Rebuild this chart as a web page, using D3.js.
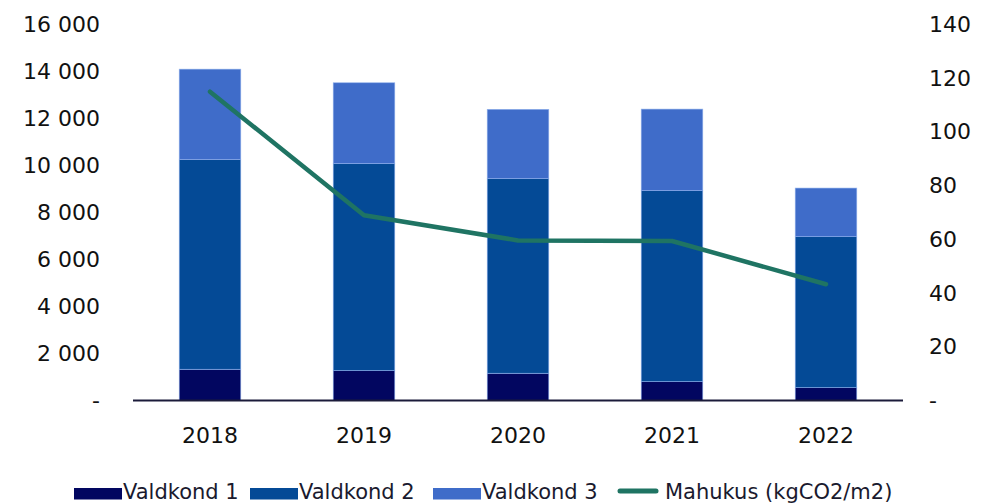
<!DOCTYPE html>
<html>
<head>
<meta charset="utf-8">
<script src="https://cdn.jsdelivr.net/npm/d3@7"></script>
<style>
  body { margin: 0; background: #fff; }
  svg { font-family: "DejaVu Sans", sans-serif; }
</style>
</head>
<body>
<div id="chart"></div>
<script>
// data
const years = ["2018", "2019", "2020", "2021", "2022"];
const valdkond1 = [1330, 1270, 1160, 800, 545];
const valdkond2 = [8920, 8810, 8280, 8130, 6425];
const valdkond3 = [3850, 3440, 2950, 3470, 2070];
const mahukus = [115, 69, 59.6, 59.4, 43.3];
const leftTicks = [0, 2000, 4000, 6000, 8000, 10000, 12000, 14000, 16000];
const rightTicks = [0, 20, 40, 60, 80, 100, 120, 140];

const seriesNames = ["Valdkond 1", "Valdkond 2", "Valdkond 3"];
const colors = ["#020660", "#044a96", "#3f6cc9"];
const lineColor = "#1f7463";

const width = 986, height = 504;
const svg = d3.select("#chart").append("svg")
    .attr("width", width)
    .attr("height", height);

const x = d3.scaleBand()
    .domain(years)
    .range([133, 903])
    .paddingInner(0.6)
    .paddingOuter(0.3);

const y = d3.scaleLinear().domain([0, 16000]).range([400.5, 24.5]);
const y2 = d3.scaleLinear().domain([0, 140]).range([400.5, 24.5]);

const fmt = d => d === 0 ? "-" : d3.format(",")(d).replace(/,/g, " ");

// stacked bars
const rows = years.map((yr, i) => ({
    year: yr,
    "Valdkond 1": valdkond1[i],
    "Valdkond 2": valdkond2[i],
    "Valdkond 3": valdkond3[i]
}));
const stacked = d3.stack().keys(seriesNames)(rows);

svg.append("g").selectAll("g")
    .data(stacked)
    .enter().append("g")
    .attr("fill", (d, i) => colors[i])
    .selectAll("rect")
    .data(d => d)
    .enter().append("rect")
    .attr("x", d => x(d.data.year))
    .attr("width", x.bandwidth())
    .attr("y", d => y(d[1]))
    .attr("height", d => y(d[0]) - y(d[1]))
    .attr("stroke", "#8fb0ec")
    .attr("stroke-width", 0.6);

// x axis line
svg.append("line")
    .attr("x1", 133).attr("x2", 903)
    .attr("y1", y(0)).attr("y2", y(0))
    .attr("stroke", "#1b1b3a")
    .attr("stroke-width", 2);

function styleText(g) {
    g.select(".domain").remove();
    g.selectAll("text")
        .attr("font-size", 22)
        .attr("font-family", "'DejaVu Sans', sans-serif")
        .attr("fill", "#111");
}

// left axis
svg.append("g")
    .attr("transform", "translate(100,0)")
    .call(d3.axisLeft(y).tickValues(leftTicks).tickFormat(fmt).tickSize(0).tickPadding(0))
    .call(styleText);

// right axis
svg.append("g")
    .attr("transform", "translate(929,0)")
    .call(d3.axisRight(y2).tickValues(rightTicks).tickFormat(fmt).tickSize(0).tickPadding(0))
    .call(styleText);

// year labels
svg.append("g")
    .attr("transform", `translate(0,${y(0)})`)
    .call(d3.axisBottom(x).tickSize(0).tickPadding(27))
    .call(styleText);

// line
const line = d3.line()
    .x((d, i) => x(years[i]) + x.bandwidth() / 2)
    .y(d => y2(d));

svg.append("path")
    .datum(mahukus)
    .attr("d", line)
    .attr("fill", "none")
    .attr("stroke", lineColor)
    .attr("stroke-width", 4.5)
    .attr("stroke-linecap", "round")
    .attr("stroke-linejoin", "round");

// legend
const legend = svg.append("g").attr("font-size", 21).attr("fill", "#1a1a2e");
const legendX = [74, 250, 433];
seriesNames.forEach((name, i) => {
    legend.append("rect")
        .attr("x", legendX[i]).attr("y", 488)
        .attr("width", 48).attr("height", 11.5)
        .attr("fill", colors[i]);
    legend.append("text")
        .attr("x", legendX[i] + 49).attr("y", 498.5)
        .text(name);
});
legend.append("line")
    .attr("x1", 620).attr("x2", 656)
    .attr("y1", 491).attr("y2", 491)
    .attr("stroke", lineColor)
    .attr("stroke-width", 5)
    .attr("stroke-linecap", "round");
legend.append("text")
    .attr("x", 665).attr("y", 498.5)
    .text("Mahukus (kgCO2/m2)");
</script>
</body>
</html>
